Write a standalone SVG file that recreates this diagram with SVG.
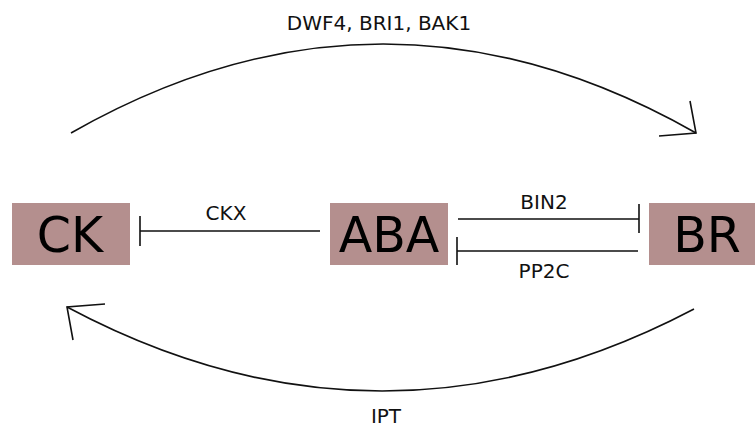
<svg xmlns="http://www.w3.org/2000/svg" width="755" height="430" viewBox="0 0 755 430">
<style>
.box{fill:#b48f8e}
.big{font-family:"DejaVu Sans",sans-serif;font-size:49px;fill:#000;text-anchor:middle}
.lbl{font-family:"DejaVu Sans",sans-serif;font-size:20px;fill:#111;text-anchor:middle}
.ln{fill:none;stroke:#111;stroke-width:1.6}
</style>
<rect width="755" height="430" fill="#fff"/>
<g id="CK"><rect class="box" x="12" y="203" width="118" height="62"/><text class="big" x="70" y="252">CK</text></g>
<g id="ABA"><rect class="box" x="330" y="203" width="118" height="62"/><text class="big" x="389" y="252">ABA</text></g>
<g id="BR"><rect class="box" x="649" y="203" width="118" height="62"/><text class="big" x="707" y="252">BR</text></g>
<g id="connectors">
<path class="ln" d="M320 231 H140 M140 216 V246"/>
<text class="lbl" x="226" y="220">CKX</text>
<path class="ln" d="M458 219 H639 M639 204 V233"/>
<text class="lbl" x="544" y="209">BIN2</text>
<path class="ln" d="M638 251 H457 M457 237 V265"/>
<text class="lbl" x="544" y="278">PP2C</text>
<path class="ln" d="M71 133 Q383 -45 696 133"/>
<path class="ln" d="M690 101 L696 133 L659 136"/>
<text class="lbl" x="379" y="30">DWF4, BRI1, BAK1</text>
<path class="ln" d="M694 309 Q380 474 67 307"/>
<path class="ln" d="M105 304 L67 307 L73 340"/>
<text class="lbl" x="386" y="423">IPT</text>
</g>
</svg>
